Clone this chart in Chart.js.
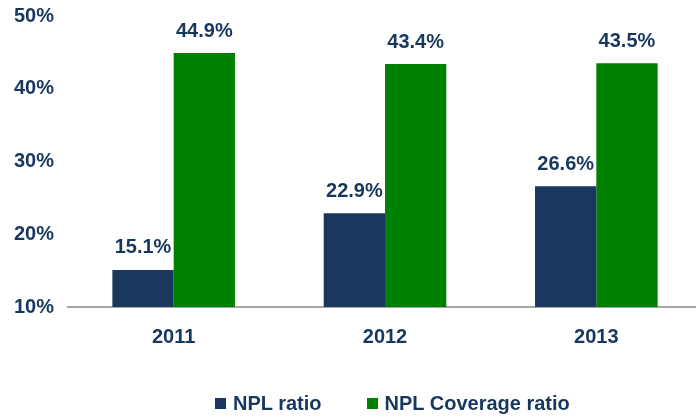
<!DOCTYPE html>
<html>
<head>
<meta charset="utf-8">
<script src="https://cdn.jsdelivr.net/npm/chart.js@4"></script>
<style>
  html, body { margin: 0; padding: 0; background: #fff; overflow: hidden; }
  #wrap { position: relative; width: 702px; height: 419px; }
  #legend {
    position: absolute; top: 392px; left: 215px;
    font: bold 20px "Liberation Sans", Arial, sans-serif; color: #17375e;
    display: flex; align-items: center; white-space: nowrap;
  }
  #legend .box { display: inline-block; width: 11px; height: 11px; margin-right: 7px; }
  #legend .item { display: flex; align-items: center; margin-right: 45px; }
</style>
</head>
<body>
<div id="wrap">
  <canvas id="grafico" width="702" height="419"></canvas>
  <div id="legend"></div>
</div>
<script>
const anos = ['2011', '2012', '2013'];
const nplRatio = [15.1, 22.9, 26.6];
const nplCoverage = [44.9, 43.4, 43.5];
const ticksY = [10, 20, 30, 40, 50];

const azul = '#1a375e';
const verde = '#008000';
const texto = '#17375e';
const fonte = { family: '"Liberation Sans", Arial, sans-serif', size: 20, weight: 'bold' };

// Rótulos de valor acima de cada barra.
const rotulos = {
  id: 'rotulos',
  afterDatasetsDraw(chart) {
    const ctx = chart.ctx;
    ctx.save();
    ctx.font = `bold 20px ${fonte.family}`;
    ctx.fillStyle = texto;
    ctx.textAlign = 'center';
    ctx.textBaseline = 'middle';
    chart.data.datasets.forEach((ds, i) => {
      chart.getDatasetMeta(i).data.forEach((bar, j) => {
        ctx.fillText(ds.data[j].toFixed(1) + '%', bar.x, bar.y - 22);
      });
    });
    ctx.restore();
  }
};

const grafico = new Chart(document.getElementById('grafico'), {
  type: 'bar',
  data: {
    labels: anos,
    datasets: [
      { label: 'NPL ratio', data: nplRatio, backgroundColor: azul },
      { label: 'NPL Coverage ratio', data: nplCoverage, backgroundColor: verde },
    ],
  },
  options: {
    responsive: false,
    animation: false,
    layout: { padding: { top: 16, right: 0, left: 0, bottom: 0 } },
    datasets: { bar: { categoryPercentage: 0.58, barPercentage: 1.0 } },
    plugins: { legend: { display: false }, tooltip: { enabled: false } },
    scales: {
      x: {
        grid: { display: false, drawTicks: false },
        border: { display: true, color: '#a6a6a6', width: 2 },
        ticks: { color: texto, font: fonte, padding: 18 },
        afterFit(scale) { scale.height = 112; },
      },
      y: {
        min: 10,
        max: 50,
        afterBuildTicks(scale) { scale.ticks = ticksY.map(v => ({ value: v })); },
        grid: { display: false, drawTicks: false },
        border: { display: false },
        ticks: { color: texto, font: fonte, padding: 14, callback: v => v + '%' },
        afterFit(scale) {
          scale.width = 68;
          // o topo fica só com o padding do layout
          scale.paddingTop = 0;
          scale.paddingBottom = 0;
        },
      },
    },
  },
  plugins: [rotulos],
});

// Legenda em HTML, abaixo do gráfico.
const legenda = document.getElementById('legend');
grafico.data.datasets.forEach(ds => {
  const item = document.createElement('span');
  item.className = 'item';
  item.innerHTML = `<span class="box" style="background:${ds.backgroundColor}"></span>${ds.label}`;
  legenda.appendChild(item);
});
</script>
</body>
</html>
